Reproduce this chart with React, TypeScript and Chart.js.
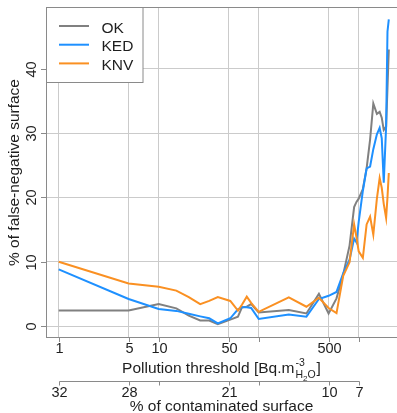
import React, { useEffect, useRef } from 'react';
import { Chart, registerables } from 'chart.js';

Chart.register(...registerables);

// ---- data ----
const thresholds = [1, 5, 10, 15, 20, 26, 32, 39, 52, 62, 68, 76, 84, 100, 200, 300, 400, 500, 600, 700, 810, 900, 950, 1000, 1100, 1200, 1300, 1400, 1520, 1620, 1700, 1780, 1880, 1940, 2000];
const okValues = [2.4, 2.4, 3.4, 2.75, 1.6, 0.85, 0.85, 0.3, 1.0, 1.45, 2.9, 3.0, 3.4, 2.1, 2.5, 1.95, 5.0, 1.95, 4.3, 8.0, 12.5, 18.5, 19.3, 19.8, 21.3, 24.5, 29.0, 34.6, 33.0, 33.3, 32.4, 30.5, 31.0, 37.0, 43.0];
const kedValues = [8.8, 4.2, 2.65, 2.35, 1.9, 1.5, 1.2, 0.4, 1.2, 2.6, 2.9, 2.9, 2.8, 1.1, 1.8, 1.45, 4.2, 4.7, 5.3, 8.2, 10.3, 13.6, 13.0, 16.2, 21.0, 24.5, 24.8, 27.5, 29.8, 30.8, 29.2, 22.3, 31.0, 45.8, 47.7];
const knvValues = [10.0, 6.6, 6.1, 5.5, 4.5, 3.4, 3.9, 4.5, 3.9, 2.4, 3.3, 4.56, 3.6, 2.2, 4.45, 3.0, 4.4, 2.8, 2.0, 7.8, 9.9, 15.8, 13.8, 11.6, 10.6, 15.8, 17.0, 14.2, 19.8, 23.0, 21.5, 19.0, 16.8, 20.0, 23.8];

const seriesNames = ['OK', 'KED', 'KNV'];
const seriesColors = ['#808080', '#1E90FF', '#FA9022'];

const xTickValues = [1, 5, 10, 50, 100, 500, 1000];
const xTickLabels = ['1', '5', '10', '50', '', '500', ''];
const surfaceTickLabels = ['32', '28', '', '21', '', '10', '7'];
const yTickValues = [0, 10, 20, 30, 40];
const yTickLabels = ['0', '10', '20', '30', '40'];

const xTitle = 'Pollution threshold [Bq.m';
const xTitleSup = '-3';
const surfaceTitle = '% of contaminated surface';
const yTitle = '% of false-negative surface';

const FONT = '"Liberation Sans", Arial, Helvetica, sans-serif';
const TEXT = '#1e1e1e';
const AXIS = '#8a8a8a';

const decorPlugin = {
  id: 'decor',
  beforeDatasetsDraw(chart: any) {
    const { ctx, chartArea: a } = chart;
    ctx.save();
    ctx.strokeStyle = AXIS;
    ctx.lineWidth = 1;
    ctx.strokeRect(a.left + 0.5, a.top + 0.5, a.right - a.left, a.bottom - a.top - 1);
    ctx.restore();
  },
  afterDraw(chart: any) {
    const { ctx, chartArea: a } = chart;
    const xs = chart.scales.x;
    const ys = chart.scales.y;
    ctx.save();
    ctx.strokeStyle = AXIS;
    ctx.lineWidth = 1;
    ctx.fillStyle = TEXT;

    // y ticks + labels
    ctx.font = `14.5px ${FONT}`;
    yTickValues.forEach((v, i) => {
      const py = Math.round(ys.getPixelForValue(v)) + 0.5;
      ctx.beginPath();
      ctx.moveTo(a.left - 5, py);
      ctx.lineTo(a.left, py);
      ctx.stroke();
      ctx.save();
      ctx.translate(35.5, py);
      ctx.rotate(-Math.PI / 2);
      ctx.textAlign = 'center';
      ctx.textBaseline = 'alphabetic';
      ctx.fillText(yTickLabels[i], 0, 0);
      ctx.restore();
    });

    // x ticks + labels
    xTickValues.forEach((v, i) => {
      const px = Math.round(xs.getPixelForValue(v)) + 0.5;
      ctx.beginPath();
      ctx.moveTo(px, a.bottom);
      ctx.lineTo(px, a.bottom + 4);
      ctx.stroke();
      ctx.textAlign = 'center';
      ctx.textBaseline = 'alphabetic';
      if (xTickLabels[i]) ctx.fillText(xTickLabels[i], px, 353);
    });

    const cx = (a.left + a.right) / 2;

    // x title with super/subscripts
    ctx.font = `15.5px ${FONT}`;
    const wMain = ctx.measureText(xTitle).width;
    const wEnd = ctx.measureText(']').width;
    ctx.font = `10.5px ${FONT}`;
    const wSup = ctx.measureText(xTitleSup).width;
    const wH = ctx.measureText('H').width;
    const wO = ctx.measureText('O').width;
    ctx.font = `8px ${FONT}`;
    const w2 = ctx.measureText('2').width;
    const wScript = Math.max(wSup, wH + w2 + wO);
    const total = wMain + 1 + wScript + 1 + wEnd;
    let sx = cx - total / 2;
    ctx.textAlign = 'left';
    ctx.font = `15.5px ${FONT}`;
    ctx.fillText(xTitle, sx, 372.5);
    sx += wMain + 1;
    ctx.font = `10.5px ${FONT}`;
    ctx.fillText(xTitleSup, sx, 366);
    ctx.fillText('H', sx, 377.5);
    ctx.font = `8px ${FONT}`;
    ctx.fillText('2', sx + wH, 380.5);
    ctx.font = `10.5px ${FONT}`;
    ctx.fillText('O', sx + wH + w2, 377.5);
    sx += wScript + 1;
    ctx.font = `15.5px ${FONT}`;
    ctx.fillText(']', sx, 372.5);

    // secondary axis: % of contaminated surface
    const p0 = Math.round(xs.getPixelForValue(xTickValues[0])) + 0.5;
    const p1 = Math.round(xs.getPixelForValue(xTickValues[xTickValues.length - 1])) + 0.5;
    const ay = 381.5;
    ctx.beginPath();
    ctx.moveTo(p0, ay);
    ctx.lineTo(p1, ay);
    ctx.stroke();
    ctx.font = `14.5px ${FONT}`;
    ctx.textAlign = 'center';
    xTickValues.forEach((v, i) => {
      const px = Math.round(xs.getPixelForValue(v)) + 0.5;
      ctx.beginPath();
      ctx.moveTo(px, ay);
      ctx.lineTo(px, ay + 4);
      ctx.stroke();
      if (surfaceTickLabels[i]) ctx.fillText(surfaceTickLabels[i], px, 397);
    });
    ctx.font = `15.5px ${FONT}`;
    ctx.fillText(surfaceTitle, cx, 411);

    // y title
    ctx.save();
    ctx.translate(18.5, (a.top + a.bottom) / 2);
    ctx.rotate(-Math.PI / 2);
    ctx.textAlign = 'center';
    ctx.fillText(yTitle, 0, 0);
    ctx.restore();

    // legend
    const lx = a.left, ly = a.top;
    const lw = 96.5, lh = 75;
    ctx.fillStyle = '#ffffff';
    ctx.fillRect(lx + 0.5, ly + 0.5, lw, lh);
    ctx.strokeStyle = AXIS;
    ctx.strokeRect(lx + 0.5, ly + 0.5, lw, lh);
    ctx.font = `15.5px ${FONT}`;
    ctx.textAlign = 'left';
    seriesNames.forEach((name, i) => {
      const yy = 26 + i * 18.7;
      ctx.strokeStyle = seriesColors[i];
      ctx.lineWidth = 2;
      ctx.beginPath();
      ctx.moveTo(59, yy);
      ctx.lineTo(89, yy);
      ctx.stroke();
      ctx.fillStyle = TEXT;
      ctx.fillText(name, 101.5, yy + 6.5);
    });
    ctx.restore();
  },
};

export default function App() {
  const ref = useRef<HTMLCanvasElement>(null);
  useEffect(() => {
    document.body.style.margin = '0';
    const series = [okValues, kedValues, knvValues];
    const chart = new Chart(ref.current as HTMLCanvasElement, {
      type: 'line',
      data: {
        datasets: series.map((vals, i) => ({
          label: seriesNames[i],
          data: thresholds.map((t, j) => ({ x: t, y: vals[j] })),
          borderColor: seriesColors[i],
          backgroundColor: seriesColors[i],
          borderWidth: 2,
          pointRadius: 0,
          tension: 0,
          fill: false,
          order: 3 - i,
        })),
      },
      options: {
        responsive: false,
        animation: false,
        devicePixelRatio: 1,
        layout: { padding: { top: 7, left: 0, right: 0, bottom: 0 } },
        plugins: { legend: { display: false }, tooltip: { enabled: false } },
        scales: {
          x: {
            type: 'logarithmic',
            bounds: 'data',
            min: Math.pow(10, -0.127),
            max: Math.pow(10, 3.383),
            afterBuildTicks: (s: any) => {
              s.ticks = xTickValues.map((v) => ({ value: v }));
            },
            afterFit: (s: any) => {
              s.height = 75;
            },
            ticks: { display: false },
            grid: { color: '#cbcbcb', lineWidth: 1, drawTicks: false },
            border: { display: false },
          },
          y: {
            type: 'linear',
            min: -1.866,
            max: 49.61,
            afterBuildTicks: (s: any) => {
              s.ticks = yTickValues.map((v) => ({ value: v }));
            },
            afterFit: (s: any) => {
              s.width = 46;
            },
            ticks: { display: false },
            grid: { color: '#cbcbcb', lineWidth: 1, drawTicks: false },
            border: { display: false },
          },
        },
      },
      plugins: [decorPlugin],
    });
    return () => chart.destroy();
  }, []);
  return (
    <div style={{ width: 397, height: 413, background: '#fff' }}>
      <canvas ref={ref} width={397} height={413} style={{ display: 'block' }} />
    </div>
  );
}
